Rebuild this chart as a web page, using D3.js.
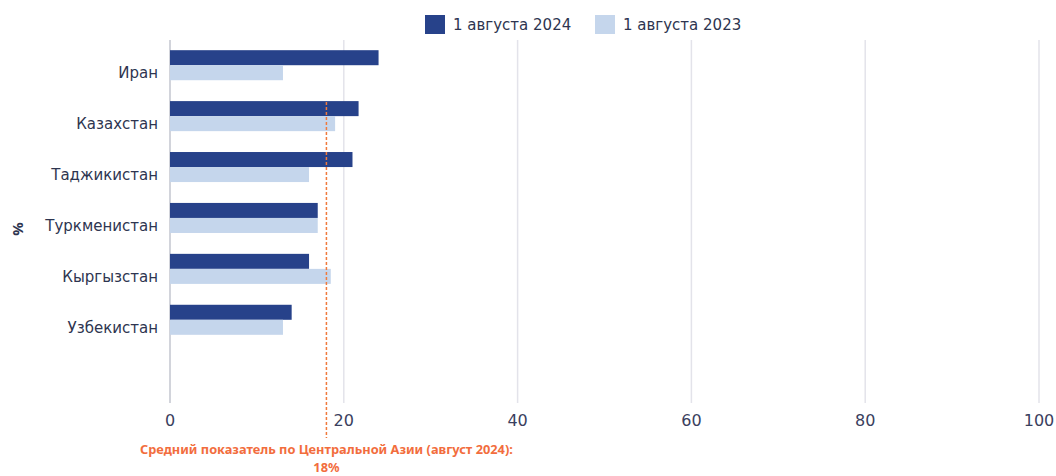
<!DOCTYPE html>
<html><head><meta charset="utf-8">
<script src="https://cdn.jsdelivr.net/npm/d3@7"></script>
<style>body{margin:0;background:#fff;}svg{display:block;font-family:"Noto Sans",sans-serif;}</style>
</head><body>
<svg id="c" width="1056" height="476"></svg>
<script>
const categories = ["Иран","Казахстан","Таджикистан","Туркменистан","Кыргызстан","Узбекистан"];
const values2024 = [24, 21.7, 21, 17, 16, 14];
const values2023 = [13, 19, 16, 17, 18.5, 13];
const seriesNames = ["1 августа 2024","1 августа 2023"];
const xTicks = [0,20,40,60,80,100];
const averageValue = 18;
const averageLabel = ["Средний показатель по Центральной Азии (август 2024):","18%"];

const colors = ["#27428a","#c5d6ec"];
const svg = d3.select("#c");
const x = d3.scaleLinear().domain([0,100]).range([170,1039]);
const y = d3.scaleBand().domain(categories).range([39.5,345.5]).paddingInner(0.41).paddingOuter(0.21);
const sub = d3.scaleBand().domain([0,1]).range([0,y.bandwidth()]);

// gridlines
svg.append("g").selectAll("line").data(xTicks.filter(d=>d>0)).join("line")
  .attr("x1",d=>x(d)).attr("x2",d=>x(d)).attr("y1",40).attr("y2",403)
  .attr("stroke","#e3e3ea").attr("stroke-width",1.5);
svg.append("line").attr("x1",x(0)).attr("x2",x(0)).attr("y1",40).attr("y2",403)
  .attr("stroke","#c3c6cf").attr("stroke-width",1.5);

// bars
const series = [values2024, values2023];
series.forEach((vals,si)=>{
  svg.append("g").selectAll("rect").data(categories).join("rect")
    .attr("x",x(0)).attr("y",d=>y(d)+sub(si))
    .attr("width",(d,i)=>x(vals[i])-x(0)).attr("height",sub.bandwidth())
    .attr("fill",colors[si]);
});

// y labels
svg.append("g").selectAll("text").data(categories).join("text")
  .attr("x",158).attr("y",d=>y(d)+y.bandwidth()/2+8).attr("dy","0.35em")
  .attr("text-anchor","end").attr("font-family","DejaVu Sans").attr("font-size",15).attr("fill","#2e3550").text(d=>d);

// x tick labels
svg.append("g").selectAll("text").data(xTicks).join("text")
  .attr("x",d=>x(d)).attr("y",426).attr("text-anchor","middle")
  .attr("font-family","DejaVu Sans").attr("font-size",16).attr("fill","#3a405e").text(d=>d);

// % label
svg.append("text").attr("transform","translate(23,229) rotate(-90)")
  .attr("text-anchor","middle").attr("font-size",15).attr("font-weight","bold").attr("fill","#2e3550").text("%");

// average line
svg.append("line").attr("x1",x(averageValue)).attr("x2",x(averageValue))
  .attr("y1",102).attr("y2",438).attr("stroke","#f07a3c").attr("stroke-width",1.5).attr("stroke-dasharray","3,2");
svg.append("g").selectAll("text").data(averageLabel).join("text")
  .attr("x",x(averageValue)).attr("y",(d,i)=>454+i*17.5).attr("text-anchor","middle")
  .attr("font-size",12.8).attr("font-weight","bold").attr("fill","#f26d3d").text(d=>d);

// legend
const lg = svg.append("g");
const lx = [425,595];
seriesNames.forEach((n,i)=>{
  lg.append("rect").attr("x",lx[i]).attr("y",15).attr("width",20).attr("height",19).attr("fill",colors[i]);
  lg.append("text").attr("x",lx[i]+28).attr("y",25).attr("dy","0.35em").attr("font-family","DejaVu Sans").attr("font-size",15).attr("fill","#2e3550").text(n);
});
</script>
</body></html>
